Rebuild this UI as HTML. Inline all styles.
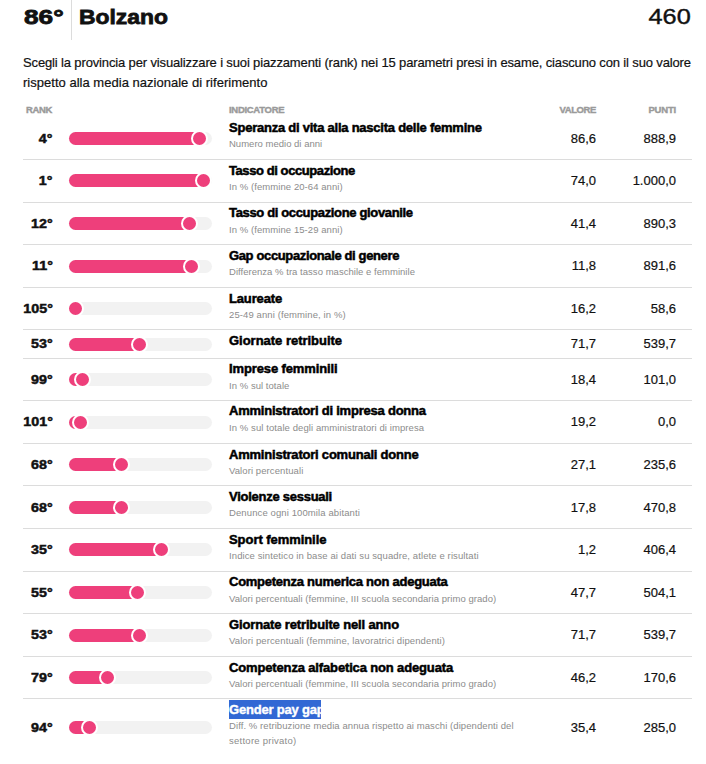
<!DOCTYPE html>
<html><head><meta charset="utf-8"><style>
html,body{margin:0;padding:0;background:#fff;}
body{width:706px;height:764px;position:relative;overflow:hidden;font-family:"Liberation Sans",sans-serif;}
.t{position:absolute;white-space:nowrap;line-height:20px;}
.sep{position:absolute;left:23px;width:669px;height:1px;background:#dcdcdc;}
.track{position:absolute;left:69px;width:143px;height:13px;border-radius:6.5px;background:#f2f2f2;}
.fill{position:absolute;left:69px;height:13px;border-radius:6.5px 0 0 6.5px;background:#ee3f7b;}
.knob{position:absolute;width:13px;height:13px;border:2px solid #fff;border-radius:50%;background:#ee3f7b;}
.sel{position:absolute;background:#3268d4;}
.vline{position:absolute;left:71px;top:0;width:1px;height:40px;background:#dcdcdc;}
</style></head><body>
<div class="vline"></div>
<div class="t" style="left:24px;top:7px;font-size:21px;font-weight:700;color:#111;-webkit-text-stroke:0.8px #111;transform:scaleX(1.25);transform-origin:0 0">86°</div>
<div class="t" style="left:79px;top:7px;font-size:21px;font-weight:700;color:#111;-webkit-text-stroke:0.8px #111;transform:scaleX(1.09);transform-origin:0 0">Bolzano</div>
<div class="t" style="right:15px;top:7px;font-size:22px;font-weight:400;color:#111;-webkit-text-stroke:0.4px #111;transform:scaleX(1.15);transform-origin:100% 0">460</div>
<div class="t" style="left:23px;top:53px;font-size:13px;color:#111;-webkit-text-stroke:0.2px #111;letter-spacing:-0.14px">Scegli la provincia per visualizzare i suoi piazzamenti (rank) nei 15 parametri presi in esame, ciascuno con il suo valore</div>
<div class="t" style="left:23px;top:73px;font-size:13px;color:#111;-webkit-text-stroke:0.2px #111;letter-spacing:0.02px">rispetto alla media nazionale di riferimento</div>
<div class="t" style="left:26px;top:100px;font-size:9.5px;font-weight:700;color:#9a9a9a;-webkit-text-stroke:0.4px #9a9a9a;letter-spacing:-0.35px">RANK</div>
<div class="t" style="left:229px;top:100px;font-size:9.5px;font-weight:700;color:#9a9a9a;-webkit-text-stroke:0.4px #9a9a9a;letter-spacing:-0.3px">INDICATORE</div>
<div class="t" style="right:110px;top:100px;font-size:9.5px;font-weight:700;color:#9a9a9a;-webkit-text-stroke:0.4px #9a9a9a;letter-spacing:-0.4px">VALORE</div>
<div class="t" style="right:30px;top:100px;font-size:9.5px;font-weight:700;color:#9a9a9a;-webkit-text-stroke:0.4px #9a9a9a;letter-spacing:-0.2px">PUNTI</div>
<div class="t" style="right:653.5px;top:129px;font-size:13px;font-weight:700;color:#111;-webkit-text-stroke:0.5px #111;transform:scaleX(1.1);transform-origin:100% 0">4°</div>
<div class="track" style="top:132px"></div>
<div class="fill" style="top:132px;width:130.81px"></div>
<div class="knob" style="top:130px;left:191.31px"></div>
<div class="t" style="left:229px;top:118px;font-size:13px;font-weight:700;color:#000;-webkit-text-stroke:0.5px #000;letter-spacing:-0.238px">Speranza di vita alla nascita delle femmine</div>
<div class="t" style="left:229px;top:134px;font-size:9.5px;color:#8c8c8c;letter-spacing:0.010px">Numero medio di anni</div>
<div class="t" style="right:110px;top:129px;font-size:13px;color:#111;-webkit-text-stroke:0.2px #111">86,6</div>
<div class="t" style="right:30px;top:129px;font-size:13px;color:#111;-webkit-text-stroke:0.2px #111">888,9</div>
<div class="sep" style="top:159px"></div>
<div class="t" style="right:653.5px;top:171px;font-size:13px;font-weight:700;color:#111;-webkit-text-stroke:0.5px #111;transform:scaleX(1.1);transform-origin:100% 0">1°</div>
<div class="track" style="top:174px"></div>
<div class="fill" style="top:174px;width:134.50px"></div>
<div class="knob" style="top:172px;left:195.00px"></div>
<div class="t" style="left:229px;top:161px;font-size:13px;font-weight:700;color:#000;-webkit-text-stroke:0.5px #000;letter-spacing:-0.418px">Tasso di occupazione</div>
<div class="t" style="left:229px;top:177px;font-size:9.5px;color:#8c8c8c;letter-spacing:0.072px">In % (femmine 20-64 anni)</div>
<div class="t" style="right:110px;top:171px;font-size:13px;color:#111;-webkit-text-stroke:0.2px #111">74,0</div>
<div class="t" style="right:30px;top:171px;font-size:13px;color:#111;-webkit-text-stroke:0.2px #111">1.000,0</div>
<div class="sep" style="top:202px"></div>
<div class="t" style="right:653.5px;top:214px;font-size:13px;font-weight:700;color:#111;-webkit-text-stroke:0.5px #111;transform:scaleX(1.1);transform-origin:100% 0">12°</div>
<div class="track" style="top:217px"></div>
<div class="fill" style="top:217px;width:120.96px"></div>
<div class="knob" style="top:215px;left:181.46px"></div>
<div class="t" style="left:229px;top:203px;font-size:13px;font-weight:700;color:#000;-webkit-text-stroke:0.5px #000;letter-spacing:-0.347px">Tasso di occupazione giovanile</div>
<div class="t" style="left:229px;top:220px;font-size:9.5px;color:#8c8c8c;letter-spacing:0.072px">In % (femmine 15-29 anni)</div>
<div class="t" style="right:110px;top:214px;font-size:13px;color:#111;-webkit-text-stroke:0.2px #111">41,4</div>
<div class="t" style="right:30px;top:214px;font-size:13px;color:#111;-webkit-text-stroke:0.2px #111">890,3</div>
<div class="sep" style="top:244px"></div>
<div class="t" style="right:653.5px;top:256px;font-size:13px;font-weight:700;color:#111;-webkit-text-stroke:0.5px #111;transform:scaleX(1.1);transform-origin:100% 0">11°</div>
<div class="track" style="top:260px"></div>
<div class="fill" style="top:260px;width:122.19px"></div>
<div class="knob" style="top:258px;left:182.69px"></div>
<div class="t" style="left:229px;top:246px;font-size:13px;font-weight:700;color:#000;-webkit-text-stroke:0.5px #000;letter-spacing:-0.365px">Gap occupazionale di genere</div>
<div class="t" style="left:229px;top:262px;font-size:9.5px;color:#8c8c8c;letter-spacing:0.031px">Differenza % tra tasso maschile e femminile</div>
<div class="t" style="right:110px;top:256px;font-size:13px;color:#111;-webkit-text-stroke:0.2px #111">11,8</div>
<div class="t" style="right:30px;top:256px;font-size:13px;color:#111;-webkit-text-stroke:0.2px #111">891,6</div>
<div class="sep" style="top:287px"></div>
<div class="t" style="right:653.5px;top:299px;font-size:13px;font-weight:700;color:#111;-webkit-text-stroke:0.5px #111;transform:scaleX(1.1);transform-origin:100% 0">105°</div>
<div class="track" style="top:302px"></div>
<div class="knob" style="top:300px;left:67.00px"></div>
<div class="t" style="left:229px;top:289px;font-size:13px;font-weight:700;color:#000;-webkit-text-stroke:0.5px #000;letter-spacing:-0.15px">Laureate</div>
<div class="t" style="left:229px;top:305px;font-size:9.5px;color:#8c8c8c;letter-spacing:0.102px">25-49 anni (femmine, in %)</div>
<div class="t" style="right:110px;top:299px;font-size:13px;color:#111;-webkit-text-stroke:0.2px #111">16,2</div>
<div class="t" style="right:30px;top:299px;font-size:13px;color:#111;-webkit-text-stroke:0.2px #111">58,6</div>
<div class="sep" style="top:329px"></div>
<div class="t" style="right:653.5px;top:334px;font-size:13px;font-weight:700;color:#111;-webkit-text-stroke:0.5px #111;transform:scaleX(1.1);transform-origin:100% 0">53°</div>
<div class="track" style="top:338px"></div>
<div class="fill" style="top:338px;width:70.50px"></div>
<div class="knob" style="top:336px;left:131.00px"></div>
<div class="t" style="left:229px;top:331px;font-size:13px;font-weight:700;color:#000;-webkit-text-stroke:0.5px #000;letter-spacing:-0.017px">Giornate retribuite</div>
<div class="t" style="right:110px;top:334px;font-size:13px;color:#111;-webkit-text-stroke:0.2px #111">71,7</div>
<div class="t" style="right:30px;top:334px;font-size:13px;color:#111;-webkit-text-stroke:0.2px #111">539,7</div>
<div class="sep" style="top:358px"></div>
<div class="t" style="right:653.5px;top:370px;font-size:13px;font-weight:700;color:#111;-webkit-text-stroke:0.5px #111;transform:scaleX(1.1);transform-origin:100% 0">99°</div>
<div class="track" style="top:373px"></div>
<div class="fill" style="top:373px;width:13.88px"></div>
<div class="knob" style="top:371px;left:74.38px"></div>
<div class="t" style="left:229px;top:359px;font-size:13px;font-weight:700;color:#000;-webkit-text-stroke:0.5px #000;letter-spacing:-0.119px">Imprese femminili</div>
<div class="t" style="left:229px;top:376px;font-size:9.5px;color:#8c8c8c;letter-spacing:0.046px">In % sul totale</div>
<div class="t" style="right:110px;top:370px;font-size:13px;color:#111;-webkit-text-stroke:0.2px #111">18,4</div>
<div class="t" style="right:30px;top:370px;font-size:13px;color:#111;-webkit-text-stroke:0.2px #111">101,0</div>
<div class="sep" style="top:400px"></div>
<div class="t" style="right:653.5px;top:412px;font-size:13px;font-weight:700;color:#111;-webkit-text-stroke:0.5px #111;transform:scaleX(1.1);transform-origin:100% 0">101°</div>
<div class="track" style="top:416px"></div>
<div class="fill" style="top:416px;width:11.42px"></div>
<div class="knob" style="top:414px;left:71.92px"></div>
<div class="t" style="left:229px;top:401px;font-size:13px;font-weight:700;color:#000;-webkit-text-stroke:0.5px #000;letter-spacing:-0.223px">Amministratori di impresa donna</div>
<div class="t" style="left:229px;top:418px;font-size:9.5px;color:#8c8c8c;letter-spacing:0.086px">In % sul totale degli amministratori di impresa</div>
<div class="t" style="right:110px;top:412px;font-size:13px;color:#111;-webkit-text-stroke:0.2px #111">19,2</div>
<div class="t" style="right:30px;top:412px;font-size:13px;color:#111;-webkit-text-stroke:0.2px #111">0,0</div>
<div class="sep" style="top:443px"></div>
<div class="t" style="right:653.5px;top:455px;font-size:13px;font-weight:700;color:#111;-webkit-text-stroke:0.5px #111;transform:scaleX(1.1);transform-origin:100% 0">68°</div>
<div class="track" style="top:458px"></div>
<div class="fill" style="top:458px;width:52.04px"></div>
<div class="knob" style="top:456px;left:112.54px"></div>
<div class="t" style="left:229px;top:445px;font-size:13px;font-weight:700;color:#000;-webkit-text-stroke:0.5px #000;letter-spacing:-0.214px">Amministratori comunali donne</div>
<div class="t" style="left:229px;top:461px;font-size:9.5px;color:#8c8c8c;letter-spacing:0.092px">Valori percentuali</div>
<div class="t" style="right:110px;top:455px;font-size:13px;color:#111;-webkit-text-stroke:0.2px #111">27,1</div>
<div class="t" style="right:30px;top:455px;font-size:13px;color:#111;-webkit-text-stroke:0.2px #111">235,6</div>
<div class="sep" style="top:485px"></div>
<div class="t" style="right:653.5px;top:498px;font-size:13px;font-weight:700;color:#111;-webkit-text-stroke:0.5px #111;transform:scaleX(1.1);transform-origin:100% 0">68°</div>
<div class="track" style="top:501px"></div>
<div class="fill" style="top:501px;width:52.04px"></div>
<div class="knob" style="top:499px;left:112.54px"></div>
<div class="t" style="left:229px;top:487px;font-size:13px;font-weight:700;color:#000;-webkit-text-stroke:0.5px #000;letter-spacing:-0.262px">Violenze sessuali</div>
<div class="t" style="left:229px;top:503px;font-size:9.5px;color:#8c8c8c;letter-spacing:0.106px">Denunce ogni 100mila abitanti</div>
<div class="t" style="right:110px;top:498px;font-size:13px;color:#111;-webkit-text-stroke:0.2px #111">17,8</div>
<div class="t" style="right:30px;top:498px;font-size:13px;color:#111;-webkit-text-stroke:0.2px #111">470,8</div>
<div class="sep" style="top:528px"></div>
<div class="t" style="right:653.5px;top:540px;font-size:13px;font-weight:700;color:#111;-webkit-text-stroke:0.5px #111;transform:scaleX(1.1);transform-origin:100% 0">35°</div>
<div class="track" style="top:543px"></div>
<div class="fill" style="top:543px;width:92.65px"></div>
<div class="knob" style="top:541px;left:153.15px"></div>
<div class="t" style="left:229px;top:530px;font-size:13px;font-weight:700;color:#000;-webkit-text-stroke:0.5px #000;letter-spacing:-0.057px">Sport femminile</div>
<div class="t" style="left:229px;top:546px;font-size:9.5px;color:#8c8c8c;letter-spacing:0.107px">Indice sintetico in base ai dati su squadre, atlete e risultati</div>
<div class="t" style="right:110px;top:540px;font-size:13px;color:#111;-webkit-text-stroke:0.2px #111">1,2</div>
<div class="t" style="right:30px;top:540px;font-size:13px;color:#111;-webkit-text-stroke:0.2px #111">406,4</div>
<div class="sep" style="top:571px"></div>
<div class="t" style="right:653.5px;top:583px;font-size:13px;font-weight:700;color:#111;-webkit-text-stroke:0.5px #111;transform:scaleX(1.1);transform-origin:100% 0">55°</div>
<div class="track" style="top:586px"></div>
<div class="fill" style="top:586px;width:68.04px"></div>
<div class="knob" style="top:584px;left:128.54px"></div>
<div class="t" style="left:229px;top:572px;font-size:13px;font-weight:700;color:#000;-webkit-text-stroke:0.5px #000;letter-spacing:-0.26px">Competenza numerica non adeguata</div>
<div class="t" style="left:229px;top:589px;font-size:9.5px;color:#8c8c8c;letter-spacing:0.054px">Valori percentuali (femmine, III scuola secondaria primo grado)</div>
<div class="t" style="right:110px;top:583px;font-size:13px;color:#111;-webkit-text-stroke:0.2px #111">47,7</div>
<div class="t" style="right:30px;top:583px;font-size:13px;color:#111;-webkit-text-stroke:0.2px #111">504,1</div>
<div class="sep" style="top:613px"></div>
<div class="t" style="right:653.5px;top:625px;font-size:13px;font-weight:700;color:#111;-webkit-text-stroke:0.5px #111;transform:scaleX(1.1);transform-origin:100% 0">53°</div>
<div class="track" style="top:629px"></div>
<div class="fill" style="top:629px;width:70.50px"></div>
<div class="knob" style="top:627px;left:131.00px"></div>
<div class="t" style="left:229px;top:615px;font-size:13px;font-weight:700;color:#000;-webkit-text-stroke:0.5px #000;letter-spacing:-0.143px">Giornate retribuite nell anno</div>
<div class="t" style="left:229px;top:631px;font-size:9.5px;color:#8c8c8c;letter-spacing:0.106px">Valori percentuali (femmine, lavoratrici dipendenti)</div>
<div class="t" style="right:110px;top:625px;font-size:13px;color:#111;-webkit-text-stroke:0.2px #111">71,7</div>
<div class="t" style="right:30px;top:625px;font-size:13px;color:#111;-webkit-text-stroke:0.2px #111">539,7</div>
<div class="sep" style="top:656px"></div>
<div class="t" style="right:653.5px;top:668px;font-size:13px;font-weight:700;color:#111;-webkit-text-stroke:0.5px #111;transform:scaleX(1.1);transform-origin:100% 0">79°</div>
<div class="track" style="top:671px"></div>
<div class="fill" style="top:671px;width:38.50px"></div>
<div class="knob" style="top:669px;left:99.00px"></div>
<div class="t" style="left:229px;top:658px;font-size:13px;font-weight:700;color:#000;-webkit-text-stroke:0.5px #000;letter-spacing:-0.147px">Competenza alfabetica non adeguata</div>
<div class="t" style="left:229px;top:674px;font-size:9.5px;color:#8c8c8c;letter-spacing:0.054px">Valori percentuali (femmine, III scuola secondaria primo grado)</div>
<div class="t" style="right:110px;top:668px;font-size:13px;color:#111;-webkit-text-stroke:0.2px #111">46,2</div>
<div class="t" style="right:30px;top:668px;font-size:13px;color:#111;-webkit-text-stroke:0.2px #111">170,6</div>
<div class="sep" style="top:698px"></div>
<div class="t" style="right:653.5px;top:718px;font-size:13px;font-weight:700;color:#111;-webkit-text-stroke:0.5px #111;transform:scaleX(1.1);transform-origin:100% 0">94°</div>
<div class="track" style="top:721px"></div>
<div class="fill" style="top:721px;width:20.04px"></div>
<div class="knob" style="top:719px;left:80.54px"></div>
<div class="sel" style="top:700px;left:229px;width:92px;height:19px"></div>
<div class="t" style="left:229px;top:700px;font-size:13px;font-weight:700;color:#fff;-webkit-text-stroke:0.4px #fff;letter-spacing:-0.2px">Gender pay gap</div>
<div class="t" style="left:229px;top:716px;font-size:9.5px;color:#8c8c8c;letter-spacing:0.081px">Diff. % retribuzione media annua rispetto ai maschi (dipendenti del</div>
<div class="t" style="left:229px;top:731px;font-size:9.5px;color:#8c8c8c;letter-spacing:0.257px">settore privato)</div>
<div class="t" style="right:110px;top:718px;font-size:13px;color:#111;-webkit-text-stroke:0.2px #111">35,4</div>
<div class="t" style="right:30px;top:718px;font-size:13px;color:#111;-webkit-text-stroke:0.2px #111">285,0</div>
</body></html>
